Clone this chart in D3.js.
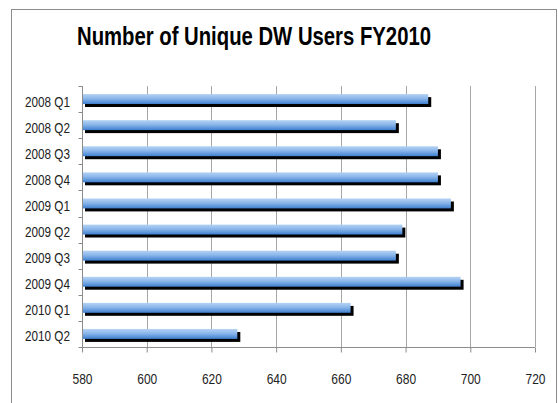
<!DOCTYPE html>
<html><head><meta charset="utf-8">
<script src="https://cdn.jsdelivr.net/npm/d3@7"></script>
<style>html,body{margin:0;padding:0;background:#fff;overflow:hidden}</style>
</head><body>
<svg id="c" width="558" height="403"></svg>
<script>
const categories = ["2008 Q1","2008 Q2","2008 Q3","2008 Q4","2009 Q1","2009 Q2","2009 Q3","2009 Q4","2010 Q1","2010 Q2"];
const users = [687, 677, 690, 690, 694, 679, 677, 697, 663, 628];
const xTicks = [580, 600, 620, 640, 660, 680, 700, 720];
const title = "Number of Unique DW Users FY2010";

const svg = d3.select("#c");
const font = "'Liberation Sans','Arial',sans-serif";
const m = {l: 82, r: 535, t: 86, b: 347};

const defs = svg.append("defs");
const g = defs.append("linearGradient").attr("id","bg").attr("x1",0).attr("y1",0).attr("x2",0).attr("y2",1);
g.append("stop").attr("offset","0%").attr("stop-color","#b4d2f4");
g.append("stop").attr("offset","45%").attr("stop-color","#8ab6ea");
g.append("stop").attr("offset","100%").attr("stop-color","#3f7fcf");

svg.append("rect").attr("x",11.5).attr("y",9.5).attr("width",545).attr("height",410)
  .attr("fill","#fff").attr("stroke","#8c8c8c").attr("stroke-width",1);

svg.append("text").attr("x",77).attr("y",45)
  .attr("font-family",font).attr("font-weight","bold").attr("font-size",25)
  .attr("textLength",354).attr("lengthAdjust","spacingAndGlyphs")
  .attr("fill","#000").text(title);

const x = d3.scaleLinear().domain([580,720]).range([m.l, m.r]);
const y = d3.scaleBand().domain(categories).range([m.t, m.b]).paddingInner(0.62).paddingOuter(0.31);
const yb = d3.scaleBand().domain(categories).range([m.t, m.b]);

// gridlines
svg.append("g").selectAll("line").data(xTicks.slice(1)).join("line")
  .attr("x1",d=>Math.round(x(d))+0.5).attr("x2",d=>Math.round(x(d))+0.5)
  .attr("y1",m.t).attr("y2",m.b).attr("stroke","#a6a6a6").attr("stroke-width",1);

// shadows
svg.append("g").selectAll("rect").data(categories).join("rect")
  .attr("x",x(580)+3).attr("y",d=>y(d)+3)
  .attr("width",(d,i)=>x(users[i])-x(580)).attr("height",y.bandwidth())
  .attr("fill","#000");
// bars
svg.append("g").selectAll("rect").data(categories).join("rect")
  .attr("x",x(580)).attr("y",d=>y(d))
  .attr("width",(d,i)=>x(users[i])-x(580)).attr("height",y.bandwidth())
  .attr("fill","url(#bg)");

// x axis
const xa = svg.append("g").attr("transform",`translate(0,${m.b+0.5})`)
  .call(d3.axisBottom(x).tickValues(xTicks).tickSize(5).tickPadding(24).tickFormat(d3.format("d")));
xa.select(".domain").attr("stroke","#8c8c8c").attr("d",`M${m.l},0H${m.r}`);
xa.selectAll(".tick line").attr("stroke","#8c8c8c");
xa.selectAll("text").attr("font-family",font).attr("font-size",15).attr("fill","#222")
  .attr("textLength",20).attr("lengthAdjust","spacingAndGlyphs").attr("dy",null).attr("y",36);

// y axis
const ya = svg.append("g").attr("transform",`translate(${m.l+0.5},0)`);
ya.append("line").attr("x1",0).attr("x2",0).attr("y1",m.t).attr("y2",m.b+4).attr("stroke","#8c8c8c");
ya.selectAll("line.t").data(categories.concat(["end"])).join("line").attr("class","t")
  .attr("x1",-4).attr("x2",0)
  .attr("y1",(d,i)=> i<categories.length ? Math.round(yb(d))+0.5 : m.b+0.5)
  .attr("y2",(d,i)=> i<categories.length ? Math.round(yb(d))+0.5 : m.b+0.5)
  .attr("stroke","#8c8c8c");
ya.selectAll("text").data(categories).join("text")
  .attr("x",-12.5).attr("y",d=>yb(d)+yb.bandwidth()/2+7.5)
  .attr("text-anchor","end").attr("font-family",font).attr("font-size",14).attr("fill","#222")
  .attr("textLength",45).attr("lengthAdjust","spacingAndGlyphs")
  .text(d=>d);
</script>
</body></html>
